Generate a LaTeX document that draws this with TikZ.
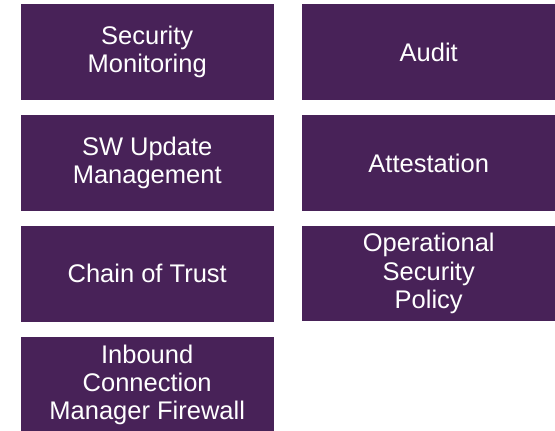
\documentclass[tikz,border=0pt]{standalone}
\usepackage{fontspec}
\setmainfont{Liberation Sans}
\definecolor{boxpurple}{RGB}{72,34,88}
\tikzset{
  tile/.style={fill=boxpurple, draw=none, text=white, anchor=north west,
    minimum width=253pt, minimum height=95.7pt, inner sep=0pt, align=center,
    font=\fontsize{25.5pt}{28.3pt}\selectfont}
}
\begin{document}
\begin{tikzpicture}[x=1pt,y=1pt]
\useasboundingbox (0,0) rectangle (555,431);
\node[tile] (secmon) at (20.5,427) {Security\\Monitoring};
\node[tile] (audit) at (302,427) {Audit};
\node[tile] (swupd) at (20.5,316) {SW Update\\Management};
\node[tile] (attest) at (302,316) {Attestation};
\node[tile] (chain) at (20.5,205.3) {Chain of Trust};
\node[tile] (opsec) at (302,205.5) {Operational\\Security\\ Policy};
\node[tile] (inbound) at (20.5,94.3) {Inbound\\Connection\\Manager Firewall};
\end{tikzpicture}
\end{document}
